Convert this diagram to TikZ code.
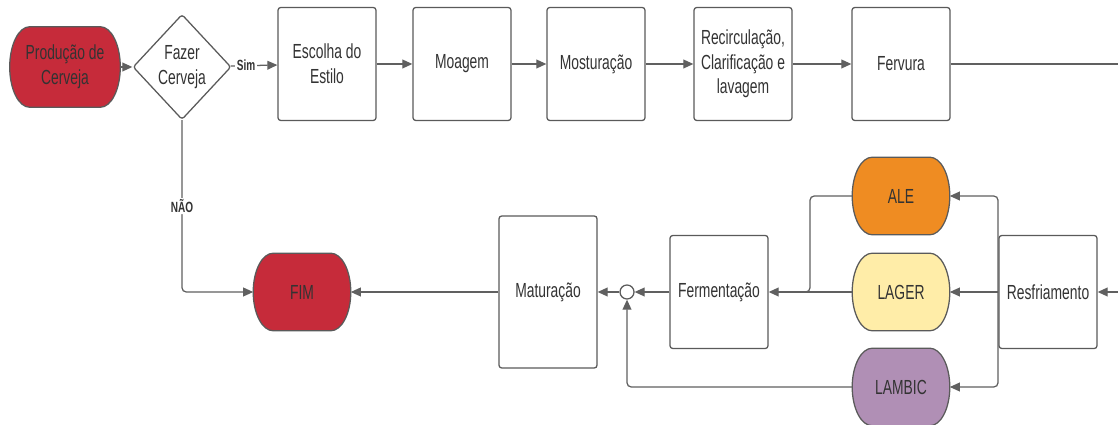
\documentclass[tikz,border=0pt]{standalone}
\usepackage{fontspec}
\setmainfont{Liberation Sans}[FakeStretch=0.68]
\usepackage{tikz}
\usetikzlibrary{arrows.meta,shapes.geometric,backgrounds,calc}
\definecolor{vermelho}{HTML}{C62B3A}
\definecolor{laranja}{HTML}{EF8C22}
\definecolor{amarelo}{HTML}{FFEDA8}
\definecolor{lilas}{HTML}{B08FB5}
\definecolor{borda}{HTML}{5A5A5A}
\definecolor{cinza}{HTML}{606060}
\definecolor{texto}{HTML}{333333}

\begin{document}
\begin{tikzpicture}[x=0.025cm,y=-0.025cm,
  font=\fontsize{14.5}{17.5}\selectfont, text=texto,
  caixa/.style={draw=borda, line width=0.9pt, rounded corners=2pt, fill=white,
    minimum width=2.45cm, minimum height=2.825cm, align=center},
  terminal/.style={rectangle, minimum width=2.425cm, minimum height=1.925cm, align=center},
  decisao/.style={diamond, draw=borda, line width=0.9pt, rounded corners=2pt, fill=white,
    inner sep=-5pt, minimum width=2.45cm, minimum height=2.63cm, align=center},
  fio/.style={draw=cinza, line width=0.9pt},
  seta/.style={fio, -{Triangle[length=2.5mm,width=2.2mm]}},
  rotulo/.style={font=\fontsize{10.5}{12}\selectfont\bfseries, fill=white, inner sep=1pt}]

% limites da figura
\clip (0,0) rectangle (1118,425);

% linha de cima
\node[terminal, minimum width=2.75cm, minimum height=2cm] (producao) at (65,67) {Produção de\\Cerveja};
\node[decisao] (fazer) at (182,67) {Fazer\\Cerveja};
\node[caixa] (estilo) at (327,64) {Escolha do\\Estilo};
\node[caixa] (moagem) at (462,64) {Moagem};
\node[caixa] (mostura) at (596,64) {Mosturação};
\node[caixa] (recirc) at (743,64) {Recirculação,\\Clarificação e\\lavagem};
\node[caixa] (fervura) at (901,64) {Fervura};

% linha de baixo
\node[caixa] (resfria) at (1048,292) {Resfriamento};
\node[terminal] (ale) at (901,196) {ALE};
\node[terminal] (lager) at (901,292) {LAGER};
\node[terminal] (lambic) at (901,387) {LAMBIC};
\node[caixa] (fermenta) at (719,292) {Fermentação};
\node[circle, draw=borda, line width=0.9pt, fill=white, minimum size=0.35cm, inner sep=0pt] (junta) at (627,292) {};
\node[caixa, minimum height=3.8cm] (matura) at (548,292) {Maturação};
\node[terminal] (fim) at (302,292) {FIM};

% contorno dos terminais (pontas elipticas)
\begin{scope}[on background layer]
\foreach \t/\c in {producao/vermelho, fim/vermelho, ale/laranja, lager/amarelo, lambic/lilas}
    \filldraw[fill=\c, draw=borda, line width=0.9pt]
      let \p1=(\t.north west), \p2=(\t.south east), \n1={(\y1-\y2)/2} in
      (\x1+0.5cm,\y1) -- (\x2-0.5cm,\y1)
      arc[start angle=90, end angle=-90, x radius=0.5cm, y radius=\n1]
      -- (\x1+0.5cm,\y2)
      arc[start angle=270, end angle=90, x radius=0.5cm, y radius=\n1] -- cycle;
\end{scope}

% pontos auxiliares
\coordinate (dir1) at (1130,64);
\coordinate (dir2) at (1130,292);
\coordinate (garfo) at (998,292);
\coordinate (une) at (810,292);

% ligacoes
\draw[seta] (producao) -- (fazer);
\draw[seta] (fazer) -- node[rotulo, pos=0.33]{Sim} (estilo);
\foreach \a/\b in {estilo/moagem, moagem/mostura, mostura/recirc, recirc/fervura}
    \draw[seta] (\a) -- (\b);
\draw[fio] (fervura) -- (dir1) -- (dir2);
\draw[seta] (dir2) -- (resfria);
\draw[seta] (resfria) -- (lager);
\draw[seta, rounded corners=3pt] (garfo) |- (ale);
\draw[seta, rounded corners=3pt] (garfo) |- (lambic);
\draw[fio, rounded corners=3pt] (ale) -| (une) -- ++(-6,0);
\draw[seta] (lager) -- (fermenta);
\draw[seta] (fermenta) -- (junta);
\draw[seta] (junta) -- (matura);
\draw[seta, rounded corners=3pt] (lambic) -| (junta);
\draw[seta] (matura) -- (fim);
\draw[seta, rounded corners=3pt] (fazer) |- node[rotulo, pos=0.25]{NÃO} (fim);
\end{tikzpicture}
\end{document}
